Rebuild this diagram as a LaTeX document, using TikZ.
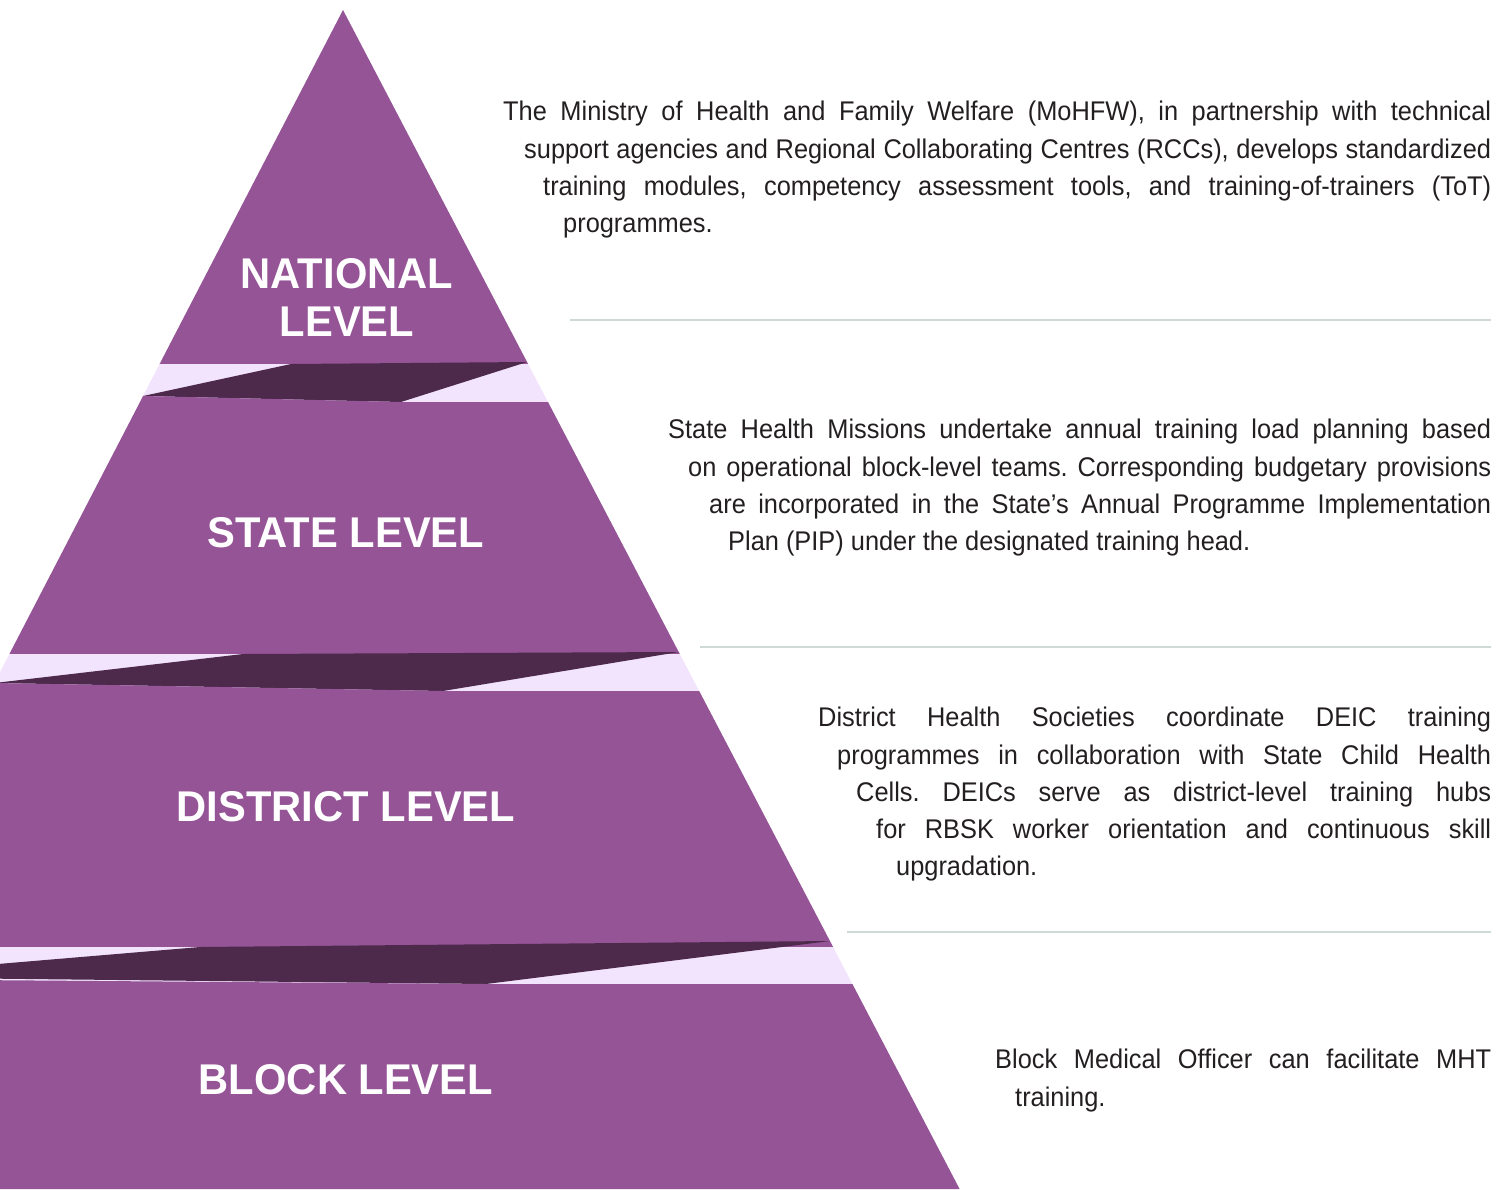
\documentclass[tikz,border=0pt]{standalone}
\usepackage{fontspec}
\setmainfont{Liberation Sans}[FakeStretch=0.94]
\newfontfamily\lvlfont{Liberation Sans}[FakeStretch=0.97]
\usepackage{tikz}
\definecolor{pyrpurple}{RGB}{148,84,150}
\definecolor{pyrdark}{RGB}{77,42,76}
\definecolor{pyrlight}{RGB}{243,228,253}
\definecolor{rulegray}{RGB}{208,218,212}
\definecolor{bodygray}{RGB}{35,31,32}
\frenchspacing
\hyphenpenalty=10000
\exhyphenpenalty=10000
\tolerance=10000
\hbadness=10000

\begin{document}
\begin{tikzpicture}[x=1pt,y=-1pt,
  lvltext/.style={text=white,inner sep=0pt,align=center,
    font=\lvlfont\bfseries\fontsize{43}{48}\selectfont},
  infotext/.style={anchor=north west,text=bodygray,inner sep=0pt,
    font=\fontsize{27}{37.3}\selectfont},
  seprule/.style={draw=rulegray,line width=1.2pt}]
\useasboundingbox (0,0) rectangle (1510,1189);

% pyramid
\begin{scope}
\clip (0,0) rectangle (1510,1189);
\fill[pyrpurple] (343,10) -- (528.1,364) -- (159.6,364) -- cycle;
\fill[pyrlight] (159.6,364) -- (528.1,364) -- (548,402) -- (139.9,402) -- cycle;
\fill[pyrdark] (143.1,396) -- (291,364) -- (527.1,362) -- (401,402) -- cycle;
\fill[pyrpurple] (143.1,396) -- (401,402) -- (548,402) -- (679.8,654) -- (9.4,654) -- cycle;
\fill[pyrlight] (9.4,654) -- (679.8,654) -- (699.2,691) -- (-9.8,691) -- cycle;
\fill[pyrdark] (-5.6,683) -- (243,654) -- (678.8,652) -- (443,691) -- cycle;
\fill[pyrpurple] (-5.6,683) -- (443,691) -- (699.2,691) -- (833.1,947) -- (-142.4,947) -- cycle;
\fill[pyrlight] (-142.4,947) -- (833.1,947) -- (852.4,984) -- (-161.5,984) -- cycle;
\fill[pyrdark] (-157,977) -- (200,947) -- (830,941) -- (486,984) -- cycle;
\fill[pyrpurple] (-157,979) -- (486,984) -- (852.4,984) -- (959.6,1189) -- (-267.7,1189) -- cycle;
\end{scope}

% level names
\node[lvltext] (national) at (347,297) {NATIONAL\\LEVEL};
\node[lvltext] (state) at (346,533) {STATE LEVEL};
\node[lvltext] (district) at (346,807) {DISTRICT LEVEL};
\node[lvltext] (block) at (346,1080) {BLOCK LEVEL};

% separators
\draw[seprule] (570,320) -- (1491,320);
\draw[seprule] (700,647) -- (1491,647);
\draw[seprule] (847,932) -- (1491,932);

% descriptions
\node[infotext] (nationaltext) at (503,101) {\parbox[t]{988pt}{\parshape 4 0pt 988pt 21pt 967pt 40pt 948pt 60pt 928pt
\noindent The Ministry of Health and Family Welfare (MoHFW), in partnership with technical\linebreak
support agencies and Regional Collaborating Centres (RCCs), develops standardized\linebreak
training modules, competency assessment tools, and training-of-trainers (ToT)\linebreak
programmes.}};
\node[infotext] (statetext) at (668,419) {\parbox[t]{823pt}{\parshape 4 0pt 823pt 20pt 803pt 41pt 782pt 60pt 763pt
\noindent State Health Missions undertake annual training load planning based\linebreak
on operational block-level teams. Corresponding budgetary provisions\linebreak
are incorporated in the State’s Annual Programme Implementation\linebreak
Plan (PIP) under the designated training head.}};
\node[infotext] (districttext) at (818,707) {\parbox[t]{673pt}{\parshape 5 0pt 673pt 19pt 654pt 38pt 635pt 58pt 615pt 78pt 595pt
\noindent District Health Societies coordinate DEIC training\linebreak
programmes in collaboration with State Child Health\linebreak
Cells. DEICs serve as district-level training hubs\linebreak
for RBSK worker orientation and continuous skill\linebreak
upgradation.}};
\node[infotext] (blocktext) at (995,1049) {\parbox[t]{496pt}{\parshape 2 0pt 496pt 20pt 476pt
\noindent Block Medical Officer can facilitate MHT\linebreak
training.}};
\end{tikzpicture}
\end{document}
